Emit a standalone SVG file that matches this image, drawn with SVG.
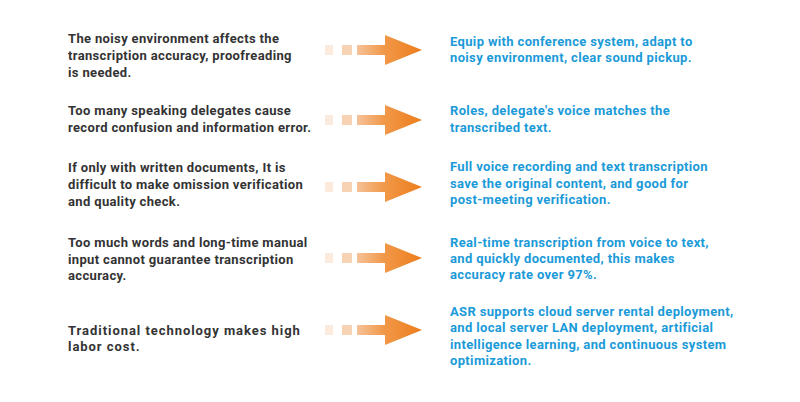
<svg xmlns="http://www.w3.org/2000/svg" xmlns:xlink="http://www.w3.org/1999/xlink" width="800" height="402" viewBox="0 0 800 402">
<style>
.l{font-family:Roboto,"Liberation Sans",sans-serif;font-weight:700;font-size:13px;letter-spacing:0.35px;fill:#333333}
.r{font-family:Roboto,"Liberation Sans",sans-serif;font-weight:700;font-size:13px;letter-spacing:0.35px;fill:#1b9ad8}
.w{letter-spacing:0.95px}
</style>
<defs>
<linearGradient id="gs" x1="0" x2="1" y1="0" y2="0">
<stop offset="0" stop-color="#f6c197"/>
<stop offset="1" stop-color="#f0923e"/>
</linearGradient>
<linearGradient id="gh" x1="0" x2="1" y1="0" y2="0">
<stop offset="0" stop-color="#f19848"/>
<stop offset="1" stop-color="#ec7d1c"/>
</linearGradient>
<g id="arrow">
<rect x="325" y="-5" width="8" height="10" fill="#fcebdc"/>
<rect x="342" y="-5" width="10" height="10" fill="#f8d3b3"/>
<rect x="357" y="-5" width="31" height="10" fill="url(#gs)"/>
<polygon points="385,-15 422,0 385,15" fill="url(#gh)"/>
</g>
</defs>
<rect width="800" height="402" fill="#ffffff"/>
<g id="connectors">
<use xlink:href="#arrow" transform="translate(0,50)"/>
<use xlink:href="#arrow" transform="translate(0,120)"/>
<use xlink:href="#arrow" transform="translate(0,187)"/>
<use xlink:href="#arrow" transform="translate(0,258)"/>
<use xlink:href="#arrow" transform="translate(0,330)"/>
</g>
<g id="problem1"><text class="l" x="68" y="43">The noisy environment affects the</text><text class="l" x="68" y="60">transcription accuracy, proofreading</text><text class="l" x="68" y="77">is needed.</text></g>
<g id="solution1"><text class="r" x="450" y="46">Equip with conference system, adapt to</text><text class="r" x="450" y="62">noisy environment, clear sound pickup.</text></g>
<g id="problem2"><text class="l" x="68" y="115">Too many speaking delegates cause</text><text class="l" x="68" y="132">record confusion and information error.</text></g>
<g id="solution2"><text class="r" x="450" y="115">Roles, delegate's voice matches the</text><text class="r" x="450" y="132">transcribed text.</text></g>
<g id="problem3"><text class="l" x="68" y="172">If only with written documents, It is</text><text class="l" x="68" y="189">difficult to make omission verification</text><text class="l" x="68" y="206">and quality check.</text></g>
<g id="solution3"><text class="r" x="450" y="171">Full voice recording and text transcription</text><text class="r" x="450" y="188">save the original content, and good for</text><text class="r" x="450" y="204">post-meeting verification.</text></g>
<g id="problem4"><text class="l" x="68" y="247">Too much words and long-time manual</text><text class="l" x="68" y="264">input cannot guarantee transcription</text><text class="l" x="68" y="280">accuracy.</text></g>
<g id="solution4"><text class="r" x="450" y="247">Real-time transcription from voice to text,</text><text class="r" x="450" y="263">and quickly documented, this makes</text><text class="r" x="450" y="279">accuracy rate over 97%.</text></g>
<g id="problem5"><text class="l w" x="68" y="335">Traditional technology makes high</text><text class="l w" x="68" y="351">labor cost.</text></g>
<g id="solution5"><text class="r" x="450" y="316">ASR supports cloud server rental deployment,</text><text class="r" x="450" y="332">and local server LAN deployment, artificial</text><text class="r" x="450" y="349">intelligence learning, and continuous system</text><text class="r" x="450" y="365">optimization.</text></g>
</svg>
